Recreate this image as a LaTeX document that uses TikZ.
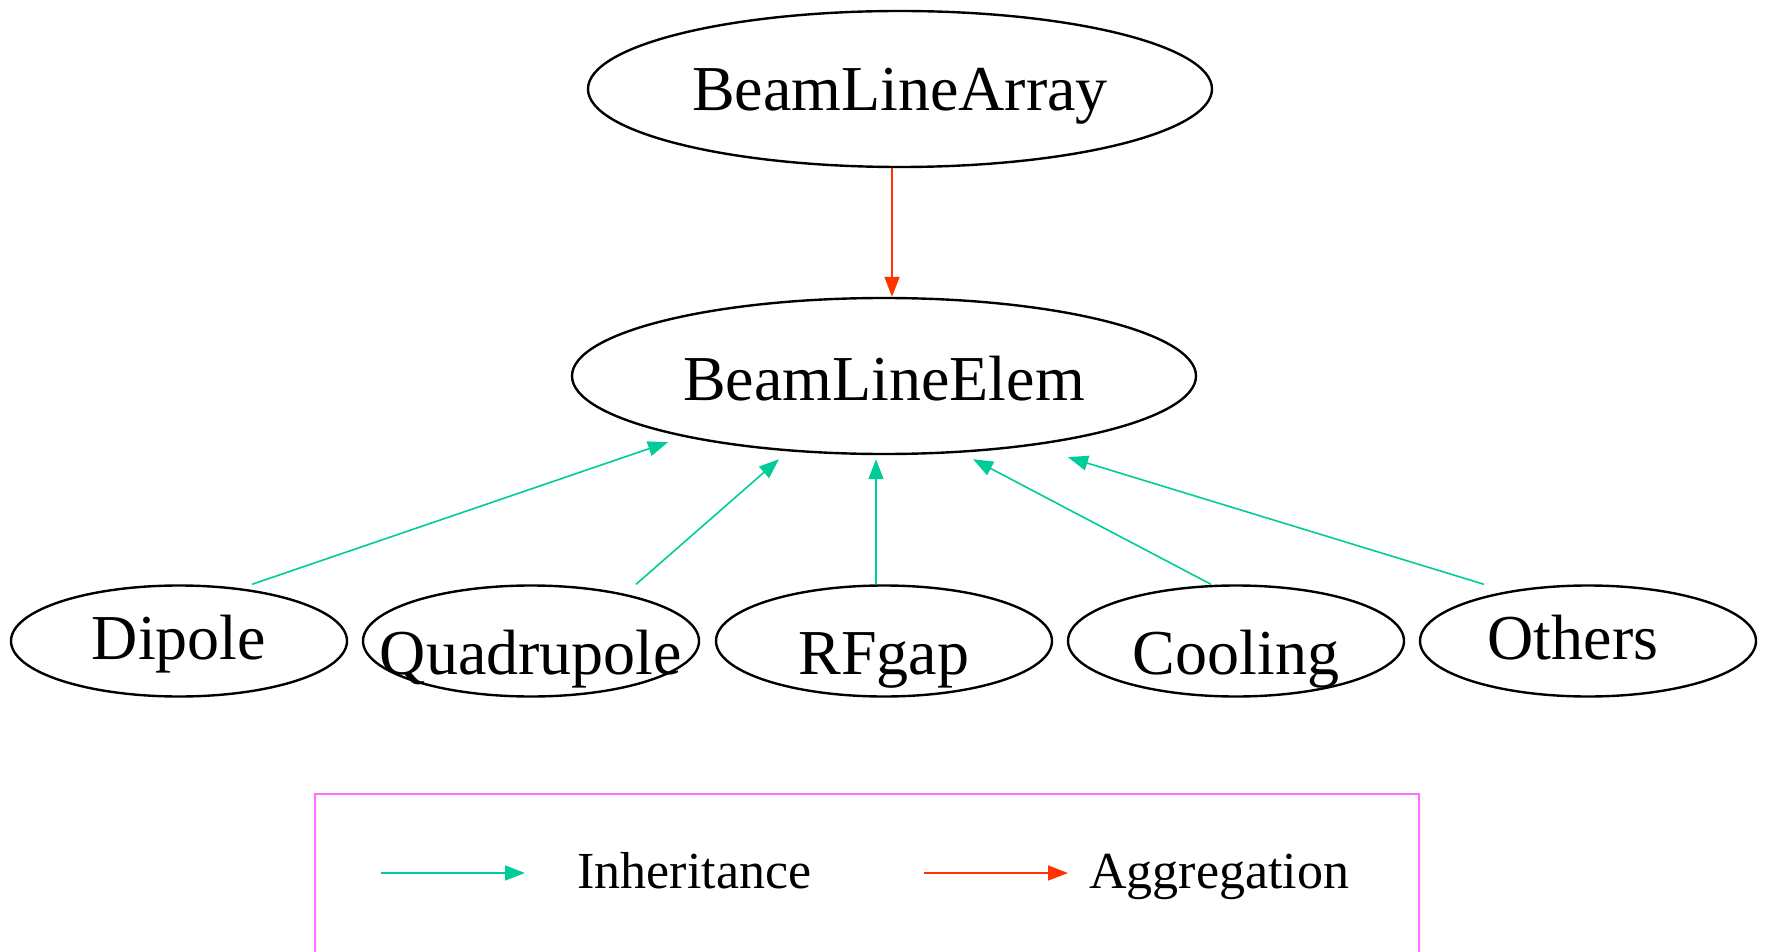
\documentclass[tikz,border=0pt]{standalone}
\usepackage{fontspec}
\setmainfont{Liberation Serif}
\usetikzlibrary{shapes.geometric,arrows.meta}

\definecolor{inhgreen}{RGB}{0,204,153}
\definecolor{aggred}{RGB}{255,51,0}
\definecolor{legpink}{RGB}{255,110,255}

\begin{document}
\begin{tikzpicture}[x=0.5pt, y=-0.5pt, >={Triangle[length=10pt,width=7.5pt]},
    cls/.style={ellipse, draw, line width=1.2pt, inner sep=0pt, text depth=0pt,
        font=\fontsize{32}{38}\selectfont},
    big/.style={cls, minimum width=312pt, minimum height=78pt},
    small/.style={cls, minimum width=168pt, minimum height=55.5pt},
    inh/.style={->, inhgreen, line width=0.8pt},
    agg/.style={->, aggred, line width=0.8pt}]
    % Keep the page at the size of the original drawing
    \useasboundingbox (0,0) rectangle (1766,952);

    % Container and base class
    \node[big, text height=22pt] (bla) at (900,89) {BeamLineArray};
    \node[big, text height=24pt] (elem) at (884,376) {BeamLineElem};

    % Derived classes (some labels sit lower in their ellipse)
    \node[small, text height=18pt] (dipole) at (179,641) {Dipole};
    \node[small, text height=33pt] (quad) at (531,641) {\makebox[0pt]{Quadrupole}};
    \node[small, text height=33pt] (rfgap) at (884,641) {RFgap};
    \node[small, text height=33pt] (cooling) at (1236,641) {Cooling};
    \node[small, text height=18pt] (others) at (1588,641) {\hspace*{-15pt}Others};

    % Aggregation
    \draw[agg] ([xshift=-4pt]bla.south) -- ([xshift=4pt]elem.north);

    % Inheritance
    \draw[inh] ([xshift=36.5pt]dipole.north) -- ([xshift=-108pt,yshift=6.5pt]elem.south);
    \draw[inh] ([xshift=52.5pt]quad.north) -- ([xshift=-52.5pt,yshift=-2pt]elem.south);
    \draw[inh] ([xshift=-4pt]rfgap.north) -- ([xshift=-4pt,yshift=-2pt]elem.south);
    \draw[inh] ([xshift=-12.5pt]cooling.north) -- ([xshift=44.5pt,yshift=-2pt]elem.south);
    \draw[inh] ([xshift=-52pt]others.north) -- ([xshift=92pt,yshift=-1pt]elem.south);

    % Legend (box runs off the bottom edge)
    \draw[legpink, line width=1.2pt] (315,952) -- (315,794) -- (1419,794) -- (1419,952);
    \coordinate (inhA) at (381,873);
    \coordinate (inhB) at (525,873);
    \coordinate (aggA) at (924,873);
    \coordinate (aggB) at (1068,873);
    \draw[inh] (inhA) -- (inhB);
    \draw[agg] (aggA) -- (aggB);
    \node[anchor=base west, inner sep=0pt, font=\fontsize{26}{31}\selectfont] (inhtxt) at (577,888) {Inheritance};
    \node[anchor=base west, inner sep=0pt, font=\fontsize{26}{31}\selectfont] (aggtxt) at (1089,888) {Aggregation};
\end{tikzpicture}
\end{document}
